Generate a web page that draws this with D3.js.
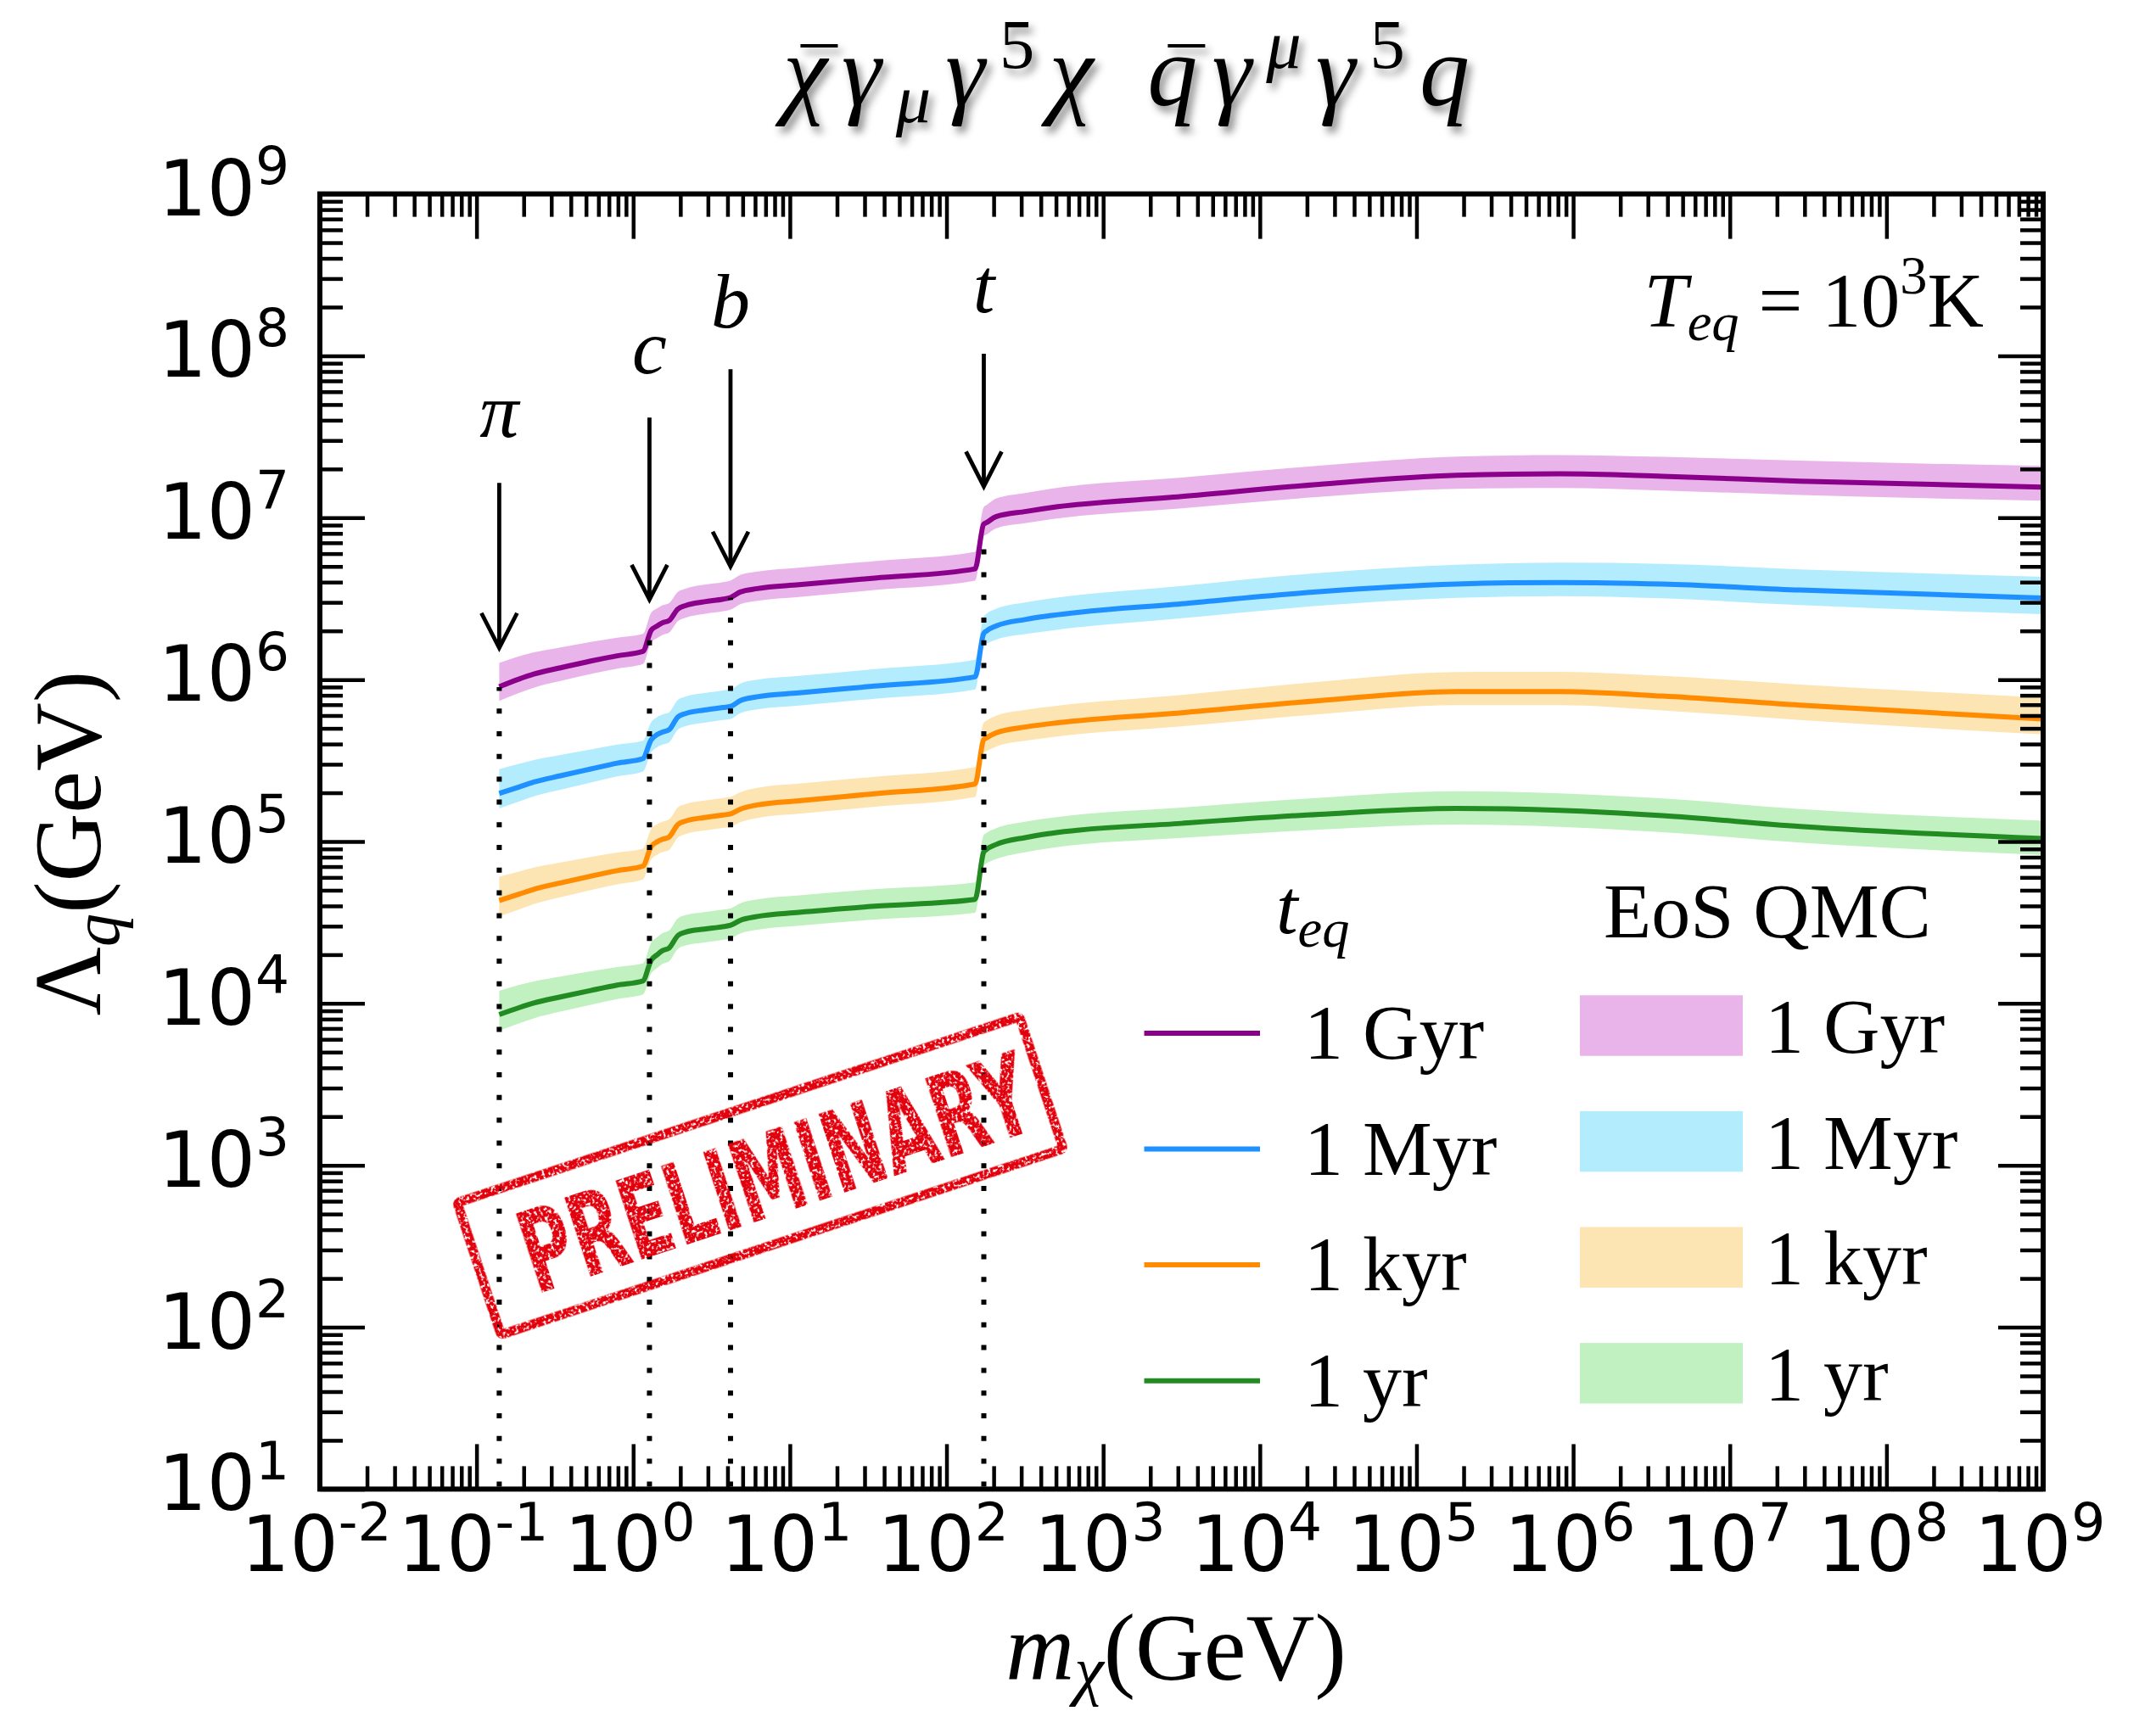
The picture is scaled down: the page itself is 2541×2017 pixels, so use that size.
<!DOCTYPE html>
<html>
<head>
<meta charset="utf-8">
<script src="https://cdn.jsdelivr.net/npm/d3@7"></script>
<style>
  html, body { margin: 0; padding: 0; background: #fff; }
  svg { display: block; }
</style>
</head>
<body>
<svg id="chart" width="2541" height="2017"></svg>
<script>
// ---------------------------------------------------------------------------
// Data: dark-matter mass grid (GeV) and log10 of the bound Lambda_q (GeV)
// ---------------------------------------------------------------------------
const massGeV = [0.1396, 0.186, 0.232, 0.343, 0.536, 0.791, 1.153, 1.303, 1.419, 1.538,
  1.694, 1.928, 2.153, 2.844, 3.750, 4.198, 4.819, 6.194, 11.43, 34.75,
  152.1, 172.6, 179.5, 206.5, 322.1, 469.9, 3170, 2.388e4, 1.799e5, 8.185e5,
  3.724e6, 2.805e7, 1e9];

// central curves, log10(Lambda_q / GeV)
const logLambda1Gyr = [5.956, 6.003, 6.034, 6.073, 6.115, 6.147, 6.174, 6.305, 6.331, 6.351,
  6.365, 6.436, 6.457, 6.481, 6.497, 6.508, 6.541, 6.562, 6.586, 6.627,
  6.684, 6.960, 6.969, 7.006, 7.039, 7.063, 7.131, 7.206, 7.262, 7.271,
  7.256, 7.226, 7.189];
const logLambda1Myr = [5.297, 5.336, 5.367, 5.406, 5.448, 5.484, 5.512, 5.629, 5.660, 5.676,
  5.690, 5.769, 5.790, 5.812, 5.828, 5.835, 5.870, 5.894, 5.918, 5.960,
  6.017, 6.284, 6.300, 6.331, 6.372, 6.396, 6.469, 6.543, 6.590, 6.600,
  6.590, 6.553, 6.504];
const logLambda1kyr = [4.635, 4.674, 4.705, 4.744, 4.786, 4.820, 4.848, 4.969, 4.998, 5.014,
  5.028, 5.105, 5.126, 5.148, 5.164, 5.171, 5.199, 5.226, 5.252, 5.295,
  5.355, 5.629, 5.640, 5.671, 5.708, 5.729, 5.795, 5.870, 5.926, 5.926,
  5.898, 5.842, 5.757];
const logLambda1yr = [3.931, 3.973, 4.002, 4.040, 4.080, 4.113, 4.139, 4.267, 4.300, 4.326,
  4.342, 4.419, 4.440, 4.459, 4.474, 4.483, 4.513, 4.537, 4.562, 4.600,
  4.642, 4.934, 4.950, 4.981, 5.025, 5.051, 5.112, 5.168, 5.205, 5.193,
  5.160, 5.093, 5.018];

// EoS QMC bands: extent above / below the central curve, in decades
const bandAbove1Gyr = [0.147, 0.140, 0.134, 0.126, 0.118, 0.112, 0.108, 0.108, 0.108, 0.108,
  0.108, 0.106, 0.105, 0.105, 0.105, 0.105, 0.105, 0.105, 0.105, 0.105,
  0.105, 0.105, 0.108, 0.112, 0.115, 0.117, 0.117, 0.115, 0.115, 0.116,
  0.120, 0.126, 0.131];
const bandBelow1Gyr = [0.088, 0.086, 0.084, 0.082, 0.080, 0.079, 0.078, 0.075, 0.075, 0.075,
  0.075, 0.075, 0.075, 0.075, 0.075, 0.075, 0.075, 0.075, 0.075, 0.074,
  0.073, 0.073, 0.073, 0.072, 0.072, 0.072, 0.073, 0.078, 0.084, 0.088,
  0.088, 0.086, 0.084];
const bandAbove1Myr = [0.150, 0.143, 0.136, 0.128, 0.120, 0.114, 0.110, 0.108, 0.108, 0.108,
  0.108, 0.106, 0.105, 0.105, 0.105, 0.105, 0.105, 0.105, 0.105, 0.105,
  0.105, 0.105, 0.106, 0.106, 0.106, 0.106, 0.110, 0.116, 0.120, 0.122,
  0.125, 0.128, 0.131];
const bandBelow1Myr = [0.092, 0.090, 0.088, 0.086, 0.084, 0.082, 0.080, 0.078, 0.078, 0.078,
  0.078, 0.078, 0.078, 0.078, 0.078, 0.078, 0.078, 0.078, 0.078, 0.078,
  0.078, 0.078, 0.080, 0.085, 0.090, 0.092, 0.090, 0.087, 0.085, 0.084,
  0.088, 0.093, 0.100];
const bandAbove1kyr = [0.147, 0.140, 0.134, 0.126, 0.118, 0.112, 0.108, 0.108, 0.108, 0.108,
  0.108, 0.106, 0.105, 0.105, 0.105, 0.105, 0.105, 0.105, 0.105, 0.105,
  0.105, 0.105, 0.106, 0.106, 0.106, 0.106, 0.110, 0.116, 0.120, 0.122,
  0.125, 0.128, 0.131];
const bandBelow1kyr = [0.098, 0.095, 0.092, 0.089, 0.086, 0.084, 0.082, 0.080, 0.080, 0.080,
  0.080, 0.080, 0.080, 0.080, 0.080, 0.080, 0.080, 0.080, 0.080, 0.080,
  0.080, 0.080, 0.082, 0.085, 0.085, 0.084, 0.084, 0.084, 0.084, 0.084,
  0.088, 0.092, 0.095];
const bandAbove1yr = [0.147, 0.140, 0.134, 0.126, 0.118, 0.112, 0.108, 0.108, 0.108, 0.108,
  0.108, 0.106, 0.105, 0.105, 0.105, 0.105, 0.105, 0.105, 0.105, 0.105,
  0.105, 0.105, 0.102, 0.100, 0.098, 0.096, 0.098, 0.102, 0.105, 0.105,
  0.106, 0.108, 0.110];
const bandBelow1yr = [0.100, 0.097, 0.094, 0.091, 0.088, 0.086, 0.084, 0.082, 0.082, 0.082,
  0.082, 0.082, 0.082, 0.082, 0.082, 0.082, 0.082, 0.082, 0.082, 0.082,
  0.082, 0.082, 0.086, 0.090, 0.090, 0.090, 0.090, 0.095, 0.100, 0.102,
  0.102, 0.100, 0.100];

const seriesLabels = ['1 Gyr', '1 Myr', '1 kyr', '1 yr'];
const lineColors = ['#8b008b', '#1e90ff', '#ff8c00', '#228b22'];
const bandColors = ['#e9b4e9', '#b3ecfd', '#fde4b3', '#c1f0c1'];

// quark / meson thresholds
const thresholdNames = ['π', 'c', 'b', 't'];
const thresholdMass = [0.1396, 1.27, 4.18, 173];
const thresholdLineTop = [9.0e5, 1.95e6, 3.2e6, 7.8e6];
const arrowTail = [1.64e7, 4.15e7, 8.26e7, 1.03e8];
const arrowTip = [1.57e6, 3.12e6, 5.0e6, 1.56e7];
const thresholdLabelAt = [3.14e7, 7.83e7, 1.50e8, 1.86e8];

const xTickExponents = [-2, -1, 0, 1, 2, 3, 4, 5, 6, 7, 8, 9];
const yTickExponents = [1, 2, 3, 4, 5, 6, 7, 8, 9];

// ---------------------------------------------------------------------------
const SERIF = '"Liberation Serif", "DejaVu Serif", serif';
const SANS = '"DejaVu Sans", sans-serif';

const svg = d3.select('#chart');
const plot = { left: 377, right: 2408, top: 228.6, bottom: 1755.4 };

const x = d3.scaleLog().domain([1e-2, 1e9]).range([plot.left, plot.right]);
const y = d3.scaleLog().domain([1e1, 1e9]).range([plot.bottom, plot.top]);

const defs = svg.append('defs');
defs.append('clipPath').attr('id', 'plotClip').append('rect')
  .attr('x', plot.left).attr('y', plot.top)
  .attr('width', plot.right - plot.left).attr('height', plot.bottom - plot.top);

const shadow = defs.append('filter').attr('id', 'titleShadow')
  .attr('x', '-10%').attr('y', '-40%').attr('width', '125%').attr('height', '190%');
shadow.append('feDropShadow').attr('dx', 5).attr('dy', 7).attr('stdDeviation', 5)
  .attr('flood-color', '#000').attr('flood-opacity', 0.45);

// rough ink texture for the stamp
const grunge = defs.append('filter').attr('id', 'grunge')
  .attr('x', '-5%').attr('y', '-5%').attr('width', '110%').attr('height', '110%');
grunge.append('feTurbulence').attr('type', 'fractalNoise').attr('baseFrequency', 0.3)
  .attr('numOctaves', 3).attr('seed', 11).attr('result', 'noise');
grunge.append('feColorMatrix').attr('in', 'noise').attr('type', 'matrix')
  .attr('values', '0 0 0 0 0  0 0 0 0 0  0 0 0 0 0  0 0 0 -10 6.6').attr('result', 'mask');
grunge.append('feComposite').attr('in', 'SourceGraphic').attr('in2', 'mask').attr('operator', 'in');

// text with italic / sub / superscript pieces
function mathText(parent, parts, opt) {
  const t = parent.append('text')
    .attr('x', opt.x).attr('y', opt.y)
    .attr('text-anchor', opt.anchor || 'start')
    .attr('font-family', opt.family || SERIF)
    .attr('font-size', opt.size)
    .attr('fill', '#000');
  let shift = 0;
  parts.forEach(p => {
    const target = p.sub ? opt.size * (opt.subDrop || 0.17)
      : p.sup ? -opt.size * (opt.supRise || 0.42) : 0;
    const ts = t.append('tspan').text(p.t)
      .attr('font-size', (p.sub || p.sup) ? opt.size * (opt.scriptScale || 0.7) : opt.size)
      .attr('font-style', p.it ? 'italic' : 'normal')
      .attr('dy', target - shift);
    if (p.dx) ts.attr('dx', p.dx);
    shift = target;
  });
  return t;
}

// ---------------------------------------------------------------------------
// Curves and bands
// ---------------------------------------------------------------------------
const series = [
  { c: logLambda1Gyr, up: bandAbove1Gyr, dn: bandBelow1Gyr },
  { c: logLambda1Myr, up: bandAbove1Myr, dn: bandBelow1Myr },
  { c: logLambda1kyr, up: bandAbove1kyr, dn: bandBelow1kyr },
  { c: logLambda1yr, up: bandAbove1yr, dn: bandBelow1yr }
].map((s, i) => ({
  color: lineColors[i],
  band: bandColors[i],
  pts: massGeV.map((m, j) => ({
    m,
    v: Math.pow(10, s.c[j]),
    hi: Math.pow(10, s.c[j] + s.up[j]),
    lo: Math.pow(10, s.c[j] - s.dn[j])
  }))
}));

const plotG = svg.append('g').attr('clip-path', 'url(#plotClip)');

const area = d3.area().curve(d3.curveMonotoneX)
  .x(d => x(d.m)).y0(d => y(d.lo)).y1(d => y(d.hi));
const line = d3.line().curve(d3.curveMonotoneX)
  .x(d => x(d.m)).y(d => y(d.v));

series.forEach(s => {
  plotG.append('path').attr('d', area(s.pts)).attr('fill', s.band).attr('stroke', 'none');
});
series.forEach(s => {
  plotG.append('path').attr('d', line(s.pts)).attr('fill', 'none')
    .attr('stroke', s.color).attr('stroke-width', 6).attr('stroke-linejoin', 'round');
});

// dotted threshold markers
thresholdMass.forEach((m, i) => {
  plotG.append('line')
    .attr('x1', x(m)).attr('x2', x(m))
    .attr('y1', y(1e1)).attr('y2', y(thresholdLineTop[i]))
    .attr('stroke', '#000').attr('stroke-width', 6)
    .attr('stroke-dasharray', '6 20.8').attr('stroke-dashoffset', -3);
});

// arrows + labels
const annG = svg.append('g');
thresholdMass.forEach((m, i) => {
  const xm = x(m), yt = y(arrowTip[i]);
  annG.append('line').attr('x1', xm).attr('x2', xm)
    .attr('y1', y(arrowTail[i])).attr('y2', yt - 3)
    .attr('stroke', '#000').attr('stroke-width', 4.8);
  annG.append('path')
    .attr('d', `M${xm - 21},${yt - 41}L${xm},${yt}L${xm + 21},${yt - 41}`)
    .attr('fill', 'none').attr('stroke', '#000').attr('stroke-width', 4.8)
    .attr('stroke-linejoin', 'miter');
  annG.append('text').attr('x', xm).attr('y', y(thresholdLabelAt[i]))
    .attr('text-anchor', 'middle').attr('font-family', SERIF)
    .attr('font-style', 'italic').attr('font-size', 92).text(thresholdNames[i]);
});

// ---------------------------------------------------------------------------
// Axes (ticks on all four sides, pointing inward)
// ---------------------------------------------------------------------------
const majorX = xTickExponents.map(k => Math.pow(10, k));
const minorX = [];
for (let k = -2; k < 9; k++) for (let d = 2; d <= 9; d++) minorX.push(d * Math.pow(10, k));
const majorY = yTickExponents.map(k => Math.pow(10, k));
const minorY = [];
for (let k = 1; k < 9; k++) for (let d = 2; d <= 9; d++) minorY.push(d * Math.pow(10, k));

function tickAxis(axisFn, scale, values, len, transform) {
  const g = svg.append('g').attr('transform', transform)
    .call(axisFn(scale).tickValues(values).tickSize(-len).tickSizeOuter(0).tickFormat(() => ''));
  g.select('.domain').remove();
  g.selectAll('.tick line').attr('stroke', '#000').attr('stroke-width', 4.5);
  g.selectAll('.tick text').remove();
  return g;
}
const MAJ = 53, MIN = 27;
tickAxis(d3.axisBottom, x, majorX, MAJ, `translate(0,${plot.bottom})`);
tickAxis(d3.axisBottom, x, minorX, MIN, `translate(0,${plot.bottom})`);
tickAxis(d3.axisTop, x, majorX, MAJ, `translate(0,${plot.top})`);
tickAxis(d3.axisTop, x, minorX, MIN, `translate(0,${plot.top})`);
tickAxis(d3.axisLeft, y, majorY, MAJ, `translate(${plot.left},0)`);
tickAxis(d3.axisLeft, y, minorY, MIN, `translate(${plot.left},0)`);
tickAxis(d3.axisRight, y, majorY, MAJ, `translate(${plot.right},0)`);
tickAxis(d3.axisRight, y, minorY, MIN, `translate(${plot.right},0)`);

svg.append('rect')
  .attr('x', plot.left).attr('y', plot.top)
  .attr('width', plot.right - plot.left).attr('height', plot.bottom - plot.top)
  .attr('fill', 'none').attr('stroke', '#000').attr('stroke-width', 6);

// tick labels 10^k
const tickLabelG = svg.append('g');
xTickExponents.forEach(k => {
  mathText(tickLabelG, [{ t: '10' }, { t: String(k), sup: true }],
    { x: x(Math.pow(10, k)) - 4, y: plot.bottom + 97, size: 90, family: SANS, anchor: 'middle', supRise: 0.405 });
});
yTickExponents.forEach(k => {
  mathText(tickLabelG, [{ t: '10' }, { t: String(k), sup: true }],
    { x: 341, y: y(Math.pow(10, k)) + 25, size: 90, family: SANS, anchor: 'end', supRise: 0.405 });
});

// axis titles
mathText(svg, [{ t: 'm', it: true }, { t: 'χ', it: true, sub: true }, { t: '(GeV)' }],
  { x: 1386, y: 1980, size: 112, anchor: 'middle', subDrop: 0.13 });
mathText(svg.append('g').attr('transform', 'translate(118,994) rotate(-90)'),
  [{ t: 'Λ' }, { t: 'q', it: true, sub: true }, { t: '(GeV)' }],
  { x: 0, y: 0, size: 112, anchor: 'middle', subDrop: 0.2 });

// title
const titleY = 124;
const titleG = svg.append('g').attr('filter', 'url(#titleShadow)');
const title = mathText(titleG, [
  { t: 'χ', it: true }, { t: 'γ', it: true }, { t: 'μ', it: true, sub: true },
  { t: 'γ', it: true }, { t: '5', sup: true }, { t: 'χ', it: true },
  { t: ' ' },
  { t: 'q', it: true }, { t: 'γ', it: true }, { t: 'μ', it: true, sup: true },
  { t: 'γ', it: true }, { t: '5', sup: true }, { t: 'q', it: true }
], { x: 1336, y: titleY, size: 118, anchor: 'middle', supRise: 0.37, subDrop: 0.17 });
// spread glyphs to the title's full width, then add the bars over chi and q
(function () {
  const n = title.text().length;
  const w = title.node().getComputedTextLength();
  const target = 809;
  if (w < target) title.attr('letter-spacing', (target - w) / (n - 1));
  [0, 7].forEach(ci => {
    const e = title.node().getExtentOfChar(ci);
    const cx = e.x + e.width * 0.5 + 8;
    titleG.append('line').attr('x1', cx - 22).attr('x2', cx + 22)
      .attr('y1', titleY - 70).attr('y2', titleY - 70)
      .attr('stroke', '#000').attr('stroke-width', 4);
  });
})();

// temperature note
mathText(svg, [
  { t: 'T', it: true }, { t: 'eq', it: true, sub: true }, { t: ' = ' },
  { t: '10' }, { t: '3', sup: true }, { t: 'K' }
], { x: 2338, y: 385, size: 92, anchor: 'end', supRise: 0.42, subDrop: 0.17 });

// ---------------------------------------------------------------------------
// Legends
// ---------------------------------------------------------------------------
const legG = svg.append('g');
mathText(legG, [{ t: 't', it: true }, { t: 'eq', it: true, sub: true }],
  { x: 1504, y: 1100, size: 92, subDrop: 0.17 });
legG.append('text').attr('x', 1890).attr('y', 1105)
  .attr('font-family', SERIF).attr('font-size', 92).text('EoS QMC');

const legStep = 136.6;
seriesLabels.forEach((lab, i) => {
  const yl = 1217.9 + i * legStep;
  legG.append('line').attr('x1', 1348.5).attr('x2', 1485).attr('y1', yl).attr('y2', yl)
    .attr('stroke', lineColors[i]).attr('stroke-width', 6);
  legG.append('text').attr('x', 1537).attr('y', 1248 + i * legStep)
    .attr('font-family', SERIF).attr('font-size', 92).text(lab);

  const yb = 1209 + i * legStep;
  legG.append('rect').attr('x', 1862).attr('y', yb - 35.7).attr('width', 192).attr('height', 71.4)
    .attr('fill', bandColors[i]);
  legG.append('text').attr('x', 2080).attr('y', 1241 + i * legStep)
    .attr('font-family', SERIF).attr('font-size', 92).text(lab);
});

// ---------------------------------------------------------------------------
// "PRELIMINARY" stamp
// ---------------------------------------------------------------------------
const stamp = svg.append('g')
  .attr('transform', 'translate(896,1386) rotate(-18.3)')
  .attr('filter', 'url(#grunge)');
stamp.append('rect').attr('x', -349).attr('y', -82).attr('width', 698).attr('height', 164)
  .attr('rx', 3).attr('fill', 'none').attr('stroke', '#e3000b').attr('stroke-width', 11);
stamp.append('text').attr('x', -295).attr('y', 50)
  .attr('font-family', '"Liberation Sans Narrow", "DejaVu Sans Condensed", "Liberation Sans", sans-serif')
  .attr('font-weight', 'bold').attr('font-size', 134)
  .attr('textLength', 626).attr('lengthAdjust', 'spacingAndGlyphs')
  .attr('fill', '#e3000b').text('PRELIMINARY');
</script>
</body>
</html>
